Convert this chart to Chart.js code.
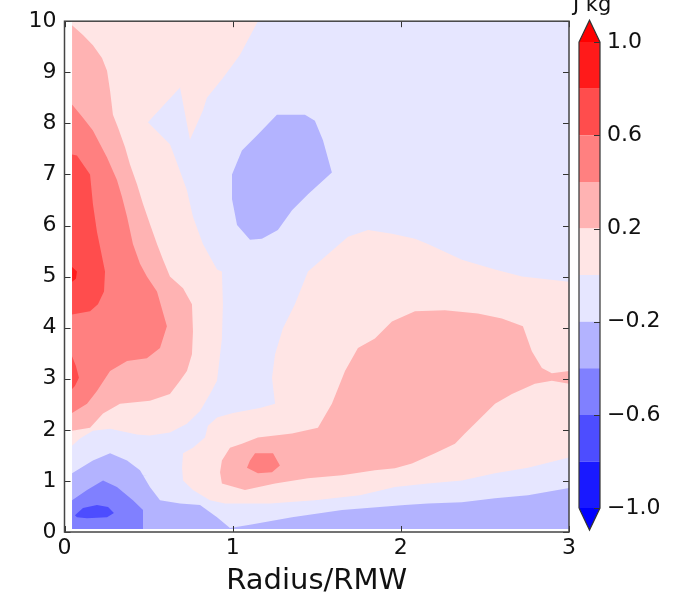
<!DOCTYPE html>
<html>
<head>
<meta charset="utf-8">
<title>Radius/RMW contour</title>
<script src="https://cdn.jsdelivr.net/npm/chart.js@4.4.1/dist/chart.umd.min.js"></script>
<style>
    html, body { margin: 0; padding: 0; background: #fff; }
    #wrap { position: relative; width: 677px; height: 601px; }
    #wrap canvas { position: absolute; top: 0; }
    #main { left: 0; }
    #cbar { left: 560px; }
</style>
</head>
<body>
<div id="wrap">
    <canvas id="main" width="677" height="601"></canvas>
    <canvas id="cbar" width="117" height="601"></canvas>
</div>
<script>
// =============================================================================
// 데이터 (x: Radius/RMW, y: height)
// =============================================================================
const levels = [-1.0, -0.8, -0.6, -0.4, -0.2, 0.0, 0.2, 0.4, 0.6, 0.8, 1.0];
const xTicks = [0, 1, 2, 3];
const yTicks = [0, 1, 2, 3, 4, 5, 6, 7, 8, 9, 10];
const cbarTicks = [-1.0, -0.6, -0.2, 0.2, 0.6, 1.0];
const xLabel = "Radius/RMW";
const cbarUnit = "J kg";
const cbarUnitSup = "\u22121";

// contour regions, painted in this order; band = index into levels
const domain = [[0.045, 0.06], [3.0, 0.06], [3.0, 10], [0.045, 10]];
const leftPink = [[0.045, 10], [1.150, 10], [1.043, 9.34], [0.942, 8.89], [0.847, 8.50], [0.823, 8.25], [0.746, 7.68],
    [0.687, 8.70], [0.496, 8.02], [0.627, 7.59], [0.657, 7.33], [0.728, 6.69], [0.764, 6.17], [0.823, 5.64],
    [0.907, 5.14], [0.936, 5.10], [0.942, 4.46], [0.936, 3.79], [0.907, 2.96], [0.865, 2.70], [0.806, 2.37],
    [0.728, 2.12], [0.627, 1.95], [0.508, 1.89], [0.431, 1.91], [0.271, 2.02], [0.169, 1.98], [0.092, 1.83],
    [0.045, 1.69]];
const leftSalmonLight = [[0.045, 9.92], [0.110, 9.73], [0.169, 9.53], [0.223, 9.28], [0.253, 9.03], [0.271, 8.64],
    [0.288, 8.17], [0.318, 7.92], [0.360, 7.53], [0.389, 7.20], [0.431, 6.81], [0.467, 6.42], [0.508, 6.03],
    [0.550, 5.64], [0.586, 5.33], [0.627, 5.00], [0.705, 4.77], [0.758, 4.46], [0.764, 3.93], [0.758, 3.48],
    [0.728, 3.15], [0.687, 2.96], [0.627, 2.70], [0.508, 2.57], [0.449, 2.55], [0.330, 2.51], [0.229, 2.32],
    [0.152, 2.04], [0.045, 1.98]];
const leftSalmon = [[0.045, 8.37], [0.110, 8.11], [0.169, 7.86], [0.253, 7.33], [0.312, 6.89], [0.342, 6.56],
    [0.372, 6.17], [0.407, 5.64], [0.449, 5.25], [0.490, 5.00], [0.550, 4.71], [0.609, 4.03], [0.568, 3.60],
    [0.490, 3.40], [0.372, 3.35], [0.271, 3.15], [0.193, 2.76], [0.134, 2.51], [0.045, 2.33]];
const leftRed = [[0.045, 7.39], [0.074, 7.37], [0.152, 7.00], [0.169, 6.42], [0.193, 5.88], [0.217, 5.49],
    [0.241, 5.10], [0.235, 4.71], [0.199, 4.46], [0.152, 4.32], [0.045, 4.26]];
const leftRedLow = [[0.045, 3.44], [0.068, 3.25], [0.086, 3.02], [0.062, 2.86], [0.045, 2.80]];
const leftRedCore = [[0.045, 5.19], [0.074, 5.10], [0.068, 4.96], [0.045, 4.90]];
const rightPink = [[0.907, 2.24], [1.002, 2.33], [1.162, 2.43], [1.252, 2.51], [1.234, 3.02], [1.252, 3.48],
    [1.299, 3.99], [1.370, 4.46], [1.448, 5.10], [1.549, 5.39], [1.686, 5.78], [1.805, 5.91], [1.947, 5.84],
    [2.084, 5.74], [2.161, 5.64], [2.363, 5.33], [2.560, 5.14], [2.720, 5.00], [3.0, 4.90], [3.0, 1.46],
    [2.756, 1.26], [2.560, 1.15], [2.363, 1.01], [2.161, 0.95], [1.965, 0.88], [1.757, 0.72], [1.489, 0.62],
    [1.222, 0.56], [0.954, 0.56], [0.865, 0.62], [0.764, 0.82], [0.705, 1.01], [0.699, 1.26], [0.705, 1.54],
    [0.764, 1.65], [0.835, 1.85], [0.853, 2.08]];
const rightSalmonLight = [[0.936, 0.95], [0.925, 1.17], [0.936, 1.40], [0.984, 1.65], [1.055, 1.73], [1.150, 1.85],
    [1.353, 1.93], [1.507, 2.04], [1.590, 2.51], [1.668, 3.15], [1.745, 3.60], [1.846, 3.79], [1.947, 4.12],
    [2.084, 4.32], [2.262, 4.34], [2.458, 4.28], [2.601, 4.18], [2.726, 4.03], [2.779, 3.54], [2.839, 3.21],
    [2.898, 3.11], [3.0, 3.15], [3.0, 2.90], [2.898, 2.96], [2.797, 2.90], [2.661, 2.70], [2.560, 2.51],
    [2.458, 2.18], [2.381, 1.93], [2.322, 1.73], [2.203, 1.54], [2.066, 1.34], [1.965, 1.25], [1.846, 1.21],
    [1.650, 1.11], [1.448, 1.05], [1.252, 0.95], [1.073, 0.82]];
const rightSalmonSpot = [[1.085, 1.26], [1.103, 1.40], [1.133, 1.54], [1.240, 1.54], [1.281, 1.30], [1.234, 1.17],
    [1.150, 1.15]];
const upperBlue = [[1.263, 8.17], [1.430, 8.17], [1.489, 8.05], [1.537, 7.67], [1.590, 7.04], [1.448, 6.61],
    [1.353, 6.30], [1.269, 5.91], [1.174, 5.74], [1.103, 5.72], [1.026, 6.01], [0.996, 6.52], [0.996, 7.00],
    [1.055, 7.47], [1.150, 7.78]];
const lowBlueLight = [[0.045, 1.15], [0.169, 1.40], [0.271, 1.54], [0.372, 1.40], [0.449, 1.21], [0.508, 0.88],
    [0.568, 0.62], [0.687, 0.56], [0.806, 0.53], [0.907, 0.29], [0.984, 0.08], [1.103, 0.14], [1.353, 0.29],
    [1.650, 0.43], [2.024, 0.53], [2.161, 0.56], [2.363, 0.58], [2.560, 0.66], [2.756, 0.72], [3.0, 0.86],
    [3.0, 0.06], [0.045, 0.06]];
const lowBlueMid = [[0.045, 0.62], [0.134, 0.82], [0.229, 1.01], [0.312, 0.88], [0.407, 0.62], [0.467, 0.43],
    [0.467, 0.06], [0.045, 0.06]];
const lowBlueDark = [[0.062, 0.33], [0.110, 0.47], [0.193, 0.53], [0.259, 0.49], [0.294, 0.37], [0.253, 0.29],
    [0.134, 0.27], [0.074, 0.29]];

const regions = [
    [domain, 4], [leftPink, 5], [leftSalmonLight, 6], [leftSalmon, 7], [leftRed, 8], [leftRedLow, 8],
    [leftRedCore, 9], [rightPink, 5], [rightSalmonLight, 6], [rightSalmonSpot, 7], [upperBlue, 3],
    [lowBlueLight, 3], [lowBlueMid, 2], [lowBlueDark, 1],
];


// =============================================================================
// 색상 / 도우미
// =============================================================================
Chart.defaults.font.family = "'DejaVu Sans', 'Liberation Sans', sans-serif";
Chart.defaults.color = "#111";

const CBAR_EXT = 0.094;   // colorbar triangle length in data units

// matplotlib "bwr"
function bwr(t) {
    if (t < 0.5) {
        const c = Math.round(255 * 2 * t);
        return `rgb(${c}, ${c}, 255)`;
    }
    const c = Math.round(255 * 2 * (1 - t));
    return `rgb(255, ${c}, ${c})`;
}

function bandColor(i) {
    const mid = (levels[i] + levels[i + 1]) / 2;
    return bwr((mid - levels[0]) / (levels[levels.length - 1] - levels[0]));
}

const underColor = bwr(0);
const overColor = bwr(1);

// start at the leftmost vertex and finish with a chord to the rightmost one,
// so the filler's x-clip spans the whole shape
function closedPath(poly) {
    let lo = 0, hi = 0;
    poly.forEach((p, i) => {
        if (p[0] < poly[lo][0]) lo = i;
        if (p[0] > poly[hi][0]) hi = i;
    });
    const ring = poly.slice(lo).concat(poly.slice(0, lo));
    return ring.concat([ring[0], poly[hi]]).map(([x, y]) => ({ x, y }));
}

function shapeDataset(poly, color, order) {
    return {
        data: closedPath(poly),
        fill: "shape",
        backgroundColor: color,
        borderColor: color,
        borderWidth: 0,
        pointRadius: 0,
        tension: 0,
        order: order,
    };
}

function fmtTick(v) {
    return v.toFixed(1).replace("-", "\u2212");
}


// =============================================================================
// 메인 차트
// =============================================================================
const frameTicks = {
    id: "frameTicks",
    afterDatasetsDraw(chart) {
        const { ctx, chartArea: a, scales: { x, y } } = chart;
        ctx.save();
        ctx.strokeStyle = "#333";
        ctx.lineWidth = 1;
        ctx.beginPath();
        xTicks.forEach((v) => {
            const px = Math.round(x.getPixelForValue(v)) + 0.5;
            ctx.moveTo(px, a.bottom); ctx.lineTo(px, a.bottom - 6);
            ctx.moveTo(px, a.top); ctx.lineTo(px, a.top + 6);
        });
        yTicks.forEach((v) => {
            const py = Math.round(y.getPixelForValue(v)) + 0.5;
            ctx.moveTo(a.left, py); ctx.lineTo(a.left + 6, py);
            ctx.moveTo(a.right, py); ctx.lineTo(a.right - 6, py);
        });
        ctx.stroke();
        ctx.strokeStyle = "#444";
        ctx.lineWidth = 1.5;
        ctx.strokeRect(a.left, a.top, a.right - a.left, a.bottom - a.top);
        ctx.restore();
    },
};

const mainDatasets = regions.map(([poly, band], i) =>
    shapeDataset(poly, bandColor(band), regions.length - i));

new Chart(document.getElementById("main"), {
    type: "line",
    data: { datasets: mainDatasets },
    options: {
        responsive: false,
        animation: false,
        events: [],
        layout: { padding: { left: 0, top: 18, right: 108, bottom: 0 } },
        plugins: { legend: { display: false }, tooltip: { enabled: false } },
        scales: {
            x: {
                type: "linear",
                min: 0,
                max: 3,
                afterBuildTicks: (s) => { s.ticks = xTicks.map((v) => ({ value: v })); },
                afterFit: (s) => { s.height = 69; },
                grid: { display: false, drawTicks: false },
                border: { display: false },
                ticks: { padding: 3, font: { size: 22 }, maxRotation: 0, callback: (v) => String(v) },
                title: { display: true, text: xLabel, font: { size: 29 }, padding: { top: 0, bottom: 2 } },
            },
            y: {
                type: "linear",
                min: 0,
                max: 10,
                afterBuildTicks: (s) => { s.ticks = yTicks.map((v) => ({ value: v })); },
                afterFit: (s) => { s.width = 64.5; },
                grid: { display: false, drawTicks: false },
                border: { display: false },
                ticks: { padding: 8, font: { size: 22 }, callback: (v) => String(v) },
            },
        },
    },
    plugins: [frameTicks],
});


// =============================================================================
// 컬러바
// =============================================================================
const cbarDatasets = [];
for (let i = 0; i < levels.length - 1; i++) {
    const rect = [[0, levels[i]], [1, levels[i]], [1, levels[i + 1]], [0, levels[i + 1]]];
    cbarDatasets.push(shapeDataset(rect, bandColor(i), 0));
}
const cbTop = levels[levels.length - 1];
const cbBottom = levels[0];
cbarDatasets.push(shapeDataset([[0, cbTop], [1, cbTop], [0.5, cbTop + CBAR_EXT]], overColor, 0));
cbarDatasets.push(shapeDataset([[0, cbBottom], [0.5, cbBottom - CBAR_EXT], [1, cbBottom]], underColor, 0));
cbarDatasets.push({
    data: [[0, cbBottom], [0, cbTop], [0.5, cbTop + CBAR_EXT], [1, cbTop], [1, cbBottom],
        [0.5, cbBottom - CBAR_EXT], [0, cbBottom]].map(([x, y]) => ({ x, y })),
    fill: false,
    borderColor: "#333",
    borderWidth: 1.2,
    pointRadius: 0,
    tension: 0,
    clip: false,
    order: -1,
});

const cbarDeco = {
    id: "cbarDeco",
    afterDatasetsDraw(chart) {
        const { ctx, chartArea: a, scales: { y } } = chart;
        ctx.save();
        ctx.strokeStyle = "#333";
        ctx.lineWidth = 1;
        ctx.beginPath();
        cbarTicks.forEach((v) => {
            const py = Math.round(y.getPixelForValue(v)) + 0.5;
            ctx.moveTo(a.right, py); ctx.lineTo(a.right - 6, py);
        });
        ctx.stroke();

        ctx.fillStyle = "#111";
        ctx.font = "21px 'DejaVu Sans'";
        ctx.textBaseline = "alphabetic";
        ctx.fillText(cbarUnit, 13, 11);
        const w = ctx.measureText(cbarUnit).width;
        ctx.font = "15px 'DejaVu Sans'";
        ctx.fillText(cbarUnitSup, 13 + w + 1, -3);
        ctx.restore();
    },
};

new Chart(document.getElementById("cbar"), {
    type: "line",
    data: { datasets: cbarDatasets },
    options: {
        responsive: false,
        animation: false,
        events: [],
        layout: { padding: { left: 19, top: 20, right: 0, bottom: 71 } },
        plugins: { legend: { display: false }, tooltip: { enabled: false } },
        scales: {
            x: { type: "linear", min: 0, max: 1, display: false },
            y: {
                type: "linear",
                position: "right",
                min: cbBottom - CBAR_EXT,
                max: cbTop + CBAR_EXT,
                afterBuildTicks: (s) => { s.ticks = cbarTicks.map((v) => ({ value: v })); },
                afterFit: (s) => { s.width = 77; },
                grid: { display: false, drawTicks: false },
                border: { display: false },
                ticks: { padding: 7, font: { size: 22 }, callback: (v) => fmtTick(v) },
            },
        },
    },
    plugins: [cbarDeco],
});
</script>
</body>
</html>
